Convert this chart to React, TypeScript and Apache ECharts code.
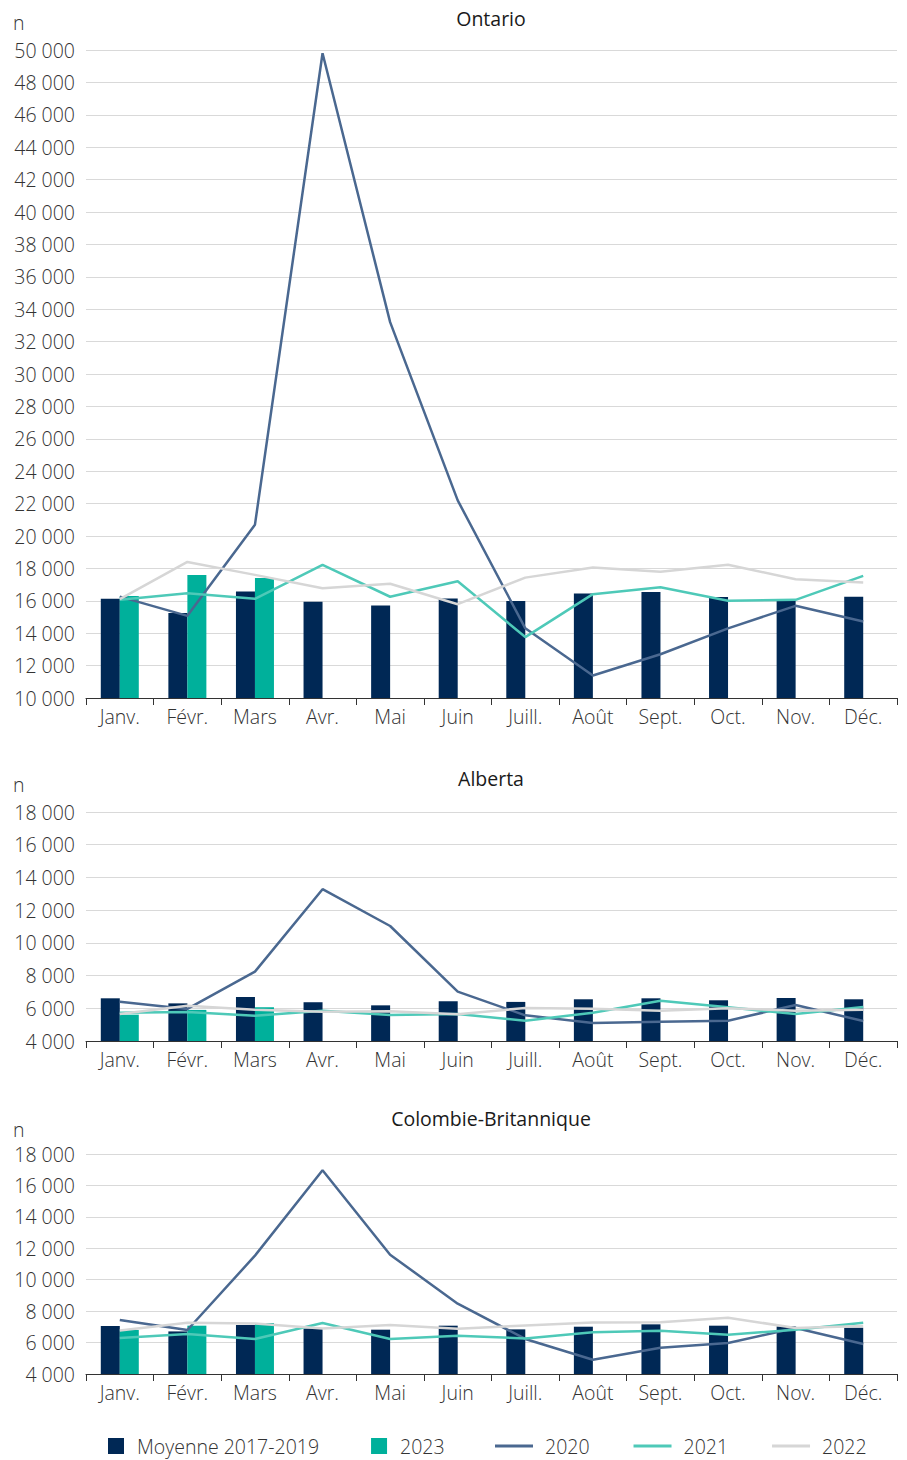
import React, { useEffect, useRef } from "react";
import * as echarts from "echarts";

const months = ["Janv.", "Févr.", "Mars", "Avr.", "Mai", "Juin", "Juill.", "Août", "Sept.", "Oct.", "Nov.", "Déc."];

// Ontario
const onAvg = [16120, 15240, 16570, 15940, 15710, 16140, 15980, 16450, 16550, 16230, 16060, 16250];
const on2023 = [16300, 17600, 17400, null, null, null, null, null, null, null, null, null];
const on2020 = [16260, 15070, 20700, 49800, 33200, 22200, 14300, 11390, 12700, 14300, 15690, 14720];
const on2021 = [16060, 16470, 16120, 18220, 16250, 17210, 13760, 16410, 16840, 16000, 16060, 17540];
const on2022 = [16100, 18400, 17600, 16780, 17050, 15790, 17430, 18050, 17800, 18230, 17330, 17130];

// Alberta
const abAvg = [6610, 6300, 6690, 6370, 6180, 6430, 6390, 6550, 6610, 6490, 6630, 6550];
const ab2023 = [5610, 5900, 6060, null, null, null, null, null, null, null, null, null];
const ab2020 = [6400, 5960, 8240, 13280, 11030, 7015, 5570, 5100, 5180, 5240, 6200, 5220];
const ab2021 = [5730, 5775, 5550, 5850, 5590, 5650, 5240, 5730, 6465, 6060, 5650, 6080];
const ab2022 = [5650, 6160, 5915, 5790, 5820, 5630, 6020, 5975, 5850, 6000, 5850, 5915];

// Colombie-Britannique
const bcAvg = [7055, 6710, 7120, 6900, 6820, 7075, 6840, 7010, 7160, 7075, 7030, 6945];
const bc2023 = [6800, 7075, 7245, null, null, null, null, null, null, null, null, null];
const bc2020 = [7435, 6800, 11530, 16960, 11590, 8475, 6230, 4910, 5675, 5970, 6930, 5910];
const bc2021 = [6290, 6545, 6230, 7245, 6230, 6440, 6265, 6650, 6755, 6500, 6820, 7265];
const bc2022 = [6775, 7265, 7220, 6900, 7120, 6880, 7090, 7285, 7300, 7580, 6930, 7055];

const titles = ["Ontario", "Alberta", "Colombie-Britannique"];
const yMins = [10000, 4000, 4000];
const yMaxs = [50000, 18000, 18000];

const C_AVG = "#002855";
const C_2023 = "#00b09b";
const C_2020 = "#4a6890";
const C_2021 = "#4ec9b8";
const C_2022 = "#d6d6d6";
const FONT = "'Open Sans', 'Noto Sans', sans-serif";
const TXT = "#333333";
const FS = 19.5;
const FW = 300;

const fmt = (v: number) => String(v).replace(/\B(?=(\d{3})+(?!\d))/g, " ");

export default function App() {
  const ref = useRef<HTMLDivElement>(null);
  useEffect(() => {
    if (!ref.current) return;
    const chart = echarts.init(ref.current, undefined, { renderer: "svg" });
    const grids = [
      { left: 86, right: 10, top: 50, height: 648 },
      { left: 86, right: 10, top: 812, height: 229 },
      { left: 86, right: 10, top: 1154, height: 220 },
    ];
    const data = [
      [onAvg, on2023, on2020, on2021, on2022],
      [abAvg, ab2023, ab2020, ab2021, ab2022],
      [bcAvg, bc2023, bc2020, bc2021, bc2022],
    ];
    const xAxis = grids.map((_, i) => ({
      type: "category",
      gridIndex: i,
      data: months,
      boundaryGap: true,
      axisLine: { lineStyle: { color: "#333", width: 1 } },
      axisTick: { show: true, length: 7, lineStyle: { color: "#333" } },
      axisLabel: { color: TXT, fontSize: FS, fontWeight: FW, fontFamily: FONT, margin: 8, interval: 0 },
    }));
    const yAxis = grids.map((_, i) => ({
      type: "value",
      gridIndex: i,
      min: yMins[i],
      max: yMaxs[i],
      interval: 2000,
      axisLine: { show: false },
      axisTick: { show: false },
      splitLine: { lineStyle: { color: "#d9d9d9", width: 1 } },
      axisLabel: { color: TXT, fontSize: FS, fontWeight: FW, fontFamily: FONT, margin: 11, formatter: (v: number) => fmt(v) },
    }));
    const series: any[] = [];
    data.forEach((d, i) => {
      series.push({
        name: "Moyenne 2017-2019", type: "bar", xAxisIndex: i, yAxisIndex: i, data: d[0],
        barWidth: 19, barGap: "0%", itemStyle: { color: C_AVG }, z: 2,
      });
      series.push({
        name: "2023", type: "bar", xAxisIndex: i, yAxisIndex: i, data: d[1],
        barWidth: 19, barGap: "0%", itemStyle: { color: C_2023 }, z: 2,
      });
      const lines: [string, string, number[]][] = [
        ["2020", C_2020, d[2] as number[]],
        ["2021", C_2021, d[3] as number[]],
        ["2022", C_2022, d[4] as number[]],
      ];
      lines.forEach(([n, c, v]) => {
        series.push({
          name: n, type: "line", xAxisIndex: i, yAxisIndex: i, data: v,
          showSymbol: false, symbol: "none", lineStyle: { color: c, width: 2.5 }, itemStyle: { color: c }, z: 3,
        });
      });
    });
    const graphic: any[] = [];
    const titleY = [18, 778, 1118];
    const nY = [22, 784, 1129];
    grids.forEach((g, i) => {
      graphic.push({
        type: "text", x: 491, y: titleY[i],
        style: { text: titles[i], fontSize: FS, fontFamily: FONT, fill: "#1a1a1a", fontWeight: 500, align: "center", verticalAlign: "middle" },
      });
      graphic.push({
        type: "text", x: 13, y: nY[i],
        style: { text: "n", fontSize: FS, fontWeight: FW, fontFamily: FONT, fill: TXT, verticalAlign: "middle" },
      });
    });
    chart.setOption({
      animation: false,
      grid: grids,
      xAxis,
      yAxis,
      series,
      graphic,
      legend: [
        {
          data: ["Moyenne 2017-2019", "2023"],
          left: 108, top: 1436, padding: 0, itemWidth: 16, itemHeight: 16, itemGap: 52, icon: "rect",
          textStyle: { color: TXT, fontSize: FS, fontWeight: FW, fontFamily: FONT, padding: [0, 0, 0, 8] },
        },
        {
          data: ["2020", "2021", "2022"],
          left: 495, top: 1436, padding: 0, itemWidth: 38, itemHeight: 3, itemGap: 44, icon: "rect",
          textStyle: { color: TXT, fontSize: FS, fontWeight: FW, fontFamily: FONT, padding: [0, 0, 0, 7] },
        },
      ],
    });
    return () => chart.dispose();
  }, []);
  return <div ref={ref} style={{ position: "absolute", left: 0, top: 0, width: 907, height: 1460 }} />;
}
